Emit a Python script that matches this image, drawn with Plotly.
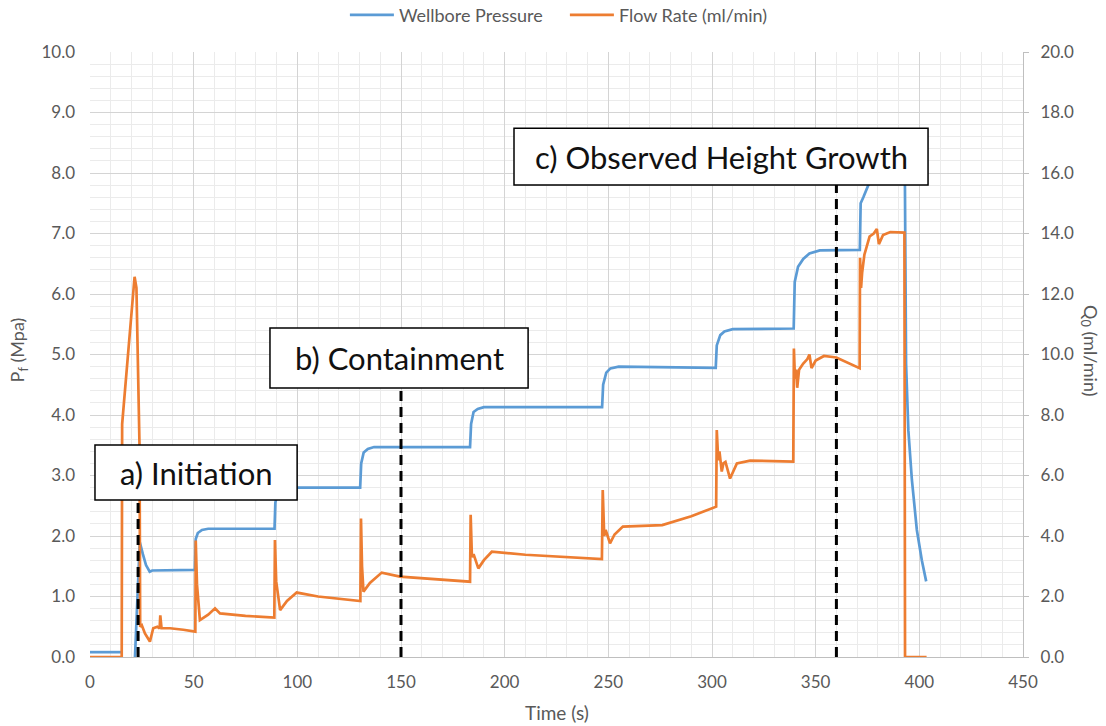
import plotly.graph_objects as go

# ---- data ----
pressure_t = [0, 15.3, None, 21.7, 24.0, 25.5, 27.0, 28.8, 30.0, 50.6,
              51.0, 52.0, 54.0, 57.0, 89.0, 89.4, 90.5, 92.5, 95.0, 130.3,
              130.8, 132.0, 134.0, 137.0, 183.3, 183.8, 185.0, 187.0, 190.0, 247.0,
              247.5, 249.0, 251.0, 255.0, 301.8, 302.3, 304.0, 306.0, 310.0, 339.4,
              339.9, 341.5, 344.0, 347.0, 352.0, 371.3, 371.7, 373.0, 376.0, 379.0,
              393.0, 393.6, 394.7, 396.4, 398.8, 401.2, 403.3]
pressure_v = [0.08, 0.08, None, 0.0, 1.9, 1.7, 1.52, 1.41, 1.43, 1.44,
              1.95, 2.05, 2.1, 2.12, 2.12, 2.55, 2.72, 2.78, 2.8, 2.8,
              3.2, 3.38, 3.44, 3.47, 3.47, 3.85, 4.05, 4.1, 4.13, 4.13,
              4.5, 4.7, 4.77, 4.8, 4.78, 5.15, 5.32, 5.38, 5.42, 5.43,
              6.2, 6.45, 6.58, 6.67, 6.72, 6.73, 7.5, 7.6, 7.85, 8.1,
              8.1, 4.85, 3.75, 2.93, 2.1, 1.6, 1.25]

flow_t = [0, 15.3, 15.5, 21.5, 22.4, 23.9, 24.2, 25.0, 26.5, 28.9,
          30.5, 32.5, 33.6, 33.9, 34.5, 38.6, 45.0, 50.8, 51.0, 51.6,
          53.0, 57.0, 60.3, 62.7, 75.0, 88.9, 89.2, 89.8, 91.7, 95.0,
          99.7, 110.0, 130.4, 130.7, 131.2, 131.9, 135.0, 140.7, 149.5, 165.0,
          183.3, 183.6, 184.2, 185.0, 187.3, 190.0, 193.8, 210.0, 246.9, 247.3,
          248.0, 248.7, 250.8, 253.0, 257.0, 276.0, 290.0, 302.0, 302.3, 303.0,
          303.6, 304.7, 305.5, 306.5, 308.7, 312.0, 318.4, 339.2, 339.5, 340.0,
          340.6, 341.1, 342.0, 344.0, 346.0, 347.0, 348.0, 350.0, 354.0, 360.0,
          371.2, 371.4, 371.9, 372.4, 373.5, 376.0, 378.0, 379.5, 380.5, 382.5,
          386.0, 392.8, 393.1, 403.5]
flow_v = [0.0, 0.0, 7.7, 12.57, 12.2, 6.9, 1.0, 1.05, 0.78, 0.51,
          0.95, 1.0, 0.95, 1.38, 0.95, 0.95, 0.9, 0.84, 3.85, 2.4,
          1.22, 1.4, 1.61, 1.44, 1.36, 1.3, 3.87, 2.5, 1.55, 1.85,
          2.13, 2.0, 1.85, 4.58, 3.0, 2.16, 2.45, 2.79, 2.66, 2.58,
          2.49, 4.7, 3.3, 3.4, 2.93, 3.2, 3.48, 3.38, 3.24, 5.52,
          4.0, 4.2, 3.76, 4.05, 4.31, 4.36, 4.65, 4.97, 7.5, 6.5,
          6.8, 6.13, 6.4, 6.45, 5.9, 6.4, 6.49, 6.46, 10.2, 9.2,
          9.5, 8.9, 9.5, 9.7, 9.85, 10.0, 9.55, 9.8, 9.95, 9.9,
          9.55, 13.2, 12.2, 12.7, 13.3, 13.9, 14.0, 14.15, 13.65, 13.95,
          14.05, 14.03, 0.0, 0.0]

x_ticks = [0, 50, 100, 150, 200, 250, 300, 350, 400, 450]
y_ticks = [0.0, 1.0, 2.0, 3.0, 4.0, 5.0, 6.0, 7.0, 8.0, 9.0, 10.0]
y2_ticks = [0.0, 2.0, 4.0, 6.0, 8.0, 10.0, 12.0, 14.0, 16.0, 18.0, 20.0]

stage_labels = ["a) Initiation", "b) Containment", "c) Observed Height Growth"]
stage_times = [23.2, 150.0, 360.0]

# ---- styling / layout ----
FONT = "Lato"
GRAY = "#595959"
BLUE = "#5B9BD5"
ORANGE = "#ED7D31"

fig = go.Figure()
fig.add_trace(go.Scatter(x=pressure_t, y=pressure_v, mode="lines", name="Wellbore Pressure",
                         line=dict(color=BLUE, width=2.7), connectgaps=False))
fig.add_trace(go.Scatter(x=flow_t, y=flow_v, mode="lines", name="Flow Rate (ml/min)",
                         line=dict(color=ORANGE, width=2.7), yaxis="y2"))

# annotation boxes (positions in data units)
boxes = [
    dict(x0=2.4, x1=99.9, y0=2.595, y1=3.504),
    dict(x0=86.8, x1=211.3, y0=4.446, y1=5.438),
    dict(x0=204.5, x1=404.2, y0=7.80, y1=8.74),
]
shapes = []
annotations = []
for lab, t, b in zip(stage_labels, stage_times, boxes):
    shapes.append(dict(type="line", xref="x", yref="y", x0=t, x1=t, y0=0, y1=b["y0"],
                       line=dict(color="black", width=3, dash="10px,6px"), layer="above"))
    shapes.append(dict(type="rect", xref="x", yref="y", x0=b["x0"], x1=b["x1"], y0=b["y0"], y1=b["y1"],
                       fillcolor="white", line=dict(color="black", width=1.5), layer="above"))
    annotations.append(dict(x=(b["x0"] + b["x1"]) / 2, y=(b["y0"] + b["y1"]) / 2, xref="x", yref="y",
                            text=lab, showarrow=False, font=dict(family=FONT, size=31, color="#111111"),
                            xanchor="center", yanchor="middle"))

annotations += [
    dict(text="P<sub>f</sub> (Mpa)", xref="paper", yref="paper", x=-0.077, y=0.507, textangle=-90,
         showarrow=False, font=dict(family=FONT, size=18, color=GRAY), xanchor="center", yanchor="middle"),
    dict(text="Q<sub>0</sub> (ml/min)", xref="paper", yref="paper", x=1.072, y=0.507, textangle=90,
         showarrow=False, font=dict(family=FONT, size=18, color=GRAY), xanchor="center", yanchor="middle"),
    dict(text="Time (s)", xref="paper", yref="paper", x=0.5, y=-0.091, showarrow=False,
         font=dict(family=FONT, size=19, color=GRAY), xanchor="center", yanchor="middle"),
]

fig.update_layout(
    width=1106, height=726,
    margin=dict(l=90, r=83, t=52, b=69, pad=0, autoexpand=False),
    paper_bgcolor="white", plot_bgcolor="white",
    font=dict(family=FONT, size=17, color=GRAY),
    showlegend=True,
    legend=dict(orientation="h", x=0.509, xanchor="center", y=1.061, yanchor="middle",
                font=dict(family=FONT, size=18, color=GRAY), itemwidth=44,
                entrywidth=161, entrywidthmode="pixels",
                bgcolor="rgba(0,0,0,0)"),
    xaxis=dict(range=[0, 450], tickvals=x_ticks, ticktext=[str(v) for v in x_ticks],
               showgrid=True, gridcolor="#d4d4d4", gridwidth=1,
               minor=dict(dtick=10, showgrid=True, gridcolor="#ebebeb", gridwidth=1),
               showline=True, linecolor="#bfbfbf", linewidth=1, zeroline=False,
               ticks="", ticklabelstandoff=10, tickfont=dict(size=17, color=GRAY)),
    yaxis=dict(range=[0, 10], tickvals=y_ticks, ticktext=[f"{v:.1f}" for v in y_ticks],
               showgrid=True, gridcolor="#d4d4d4", gridwidth=1,
               minor=dict(dtick=0.2, showgrid=True, gridcolor="#ebebeb", gridwidth=1),
               showline=False, zeroline=False, ticks="", ticklabelstandoff=14,
               tickfont=dict(size=17, color=GRAY)),
    yaxis2=dict(range=[0, 20], overlaying="y", side="right", tickvals=y2_ticks,
                ticktext=[f"{v:.1f}" for v in y2_ticks], showgrid=False, zeroline=False,
                showline=True, linecolor="#bfbfbf", linewidth=1,
                ticks="outside", ticklen=5, tickcolor="#bfbfbf", ticklabelstandoff=8,
                tickfont=dict(size=17, color=GRAY)),
    shapes=shapes,
    annotations=annotations,
)

fig.write_html("out.html")
